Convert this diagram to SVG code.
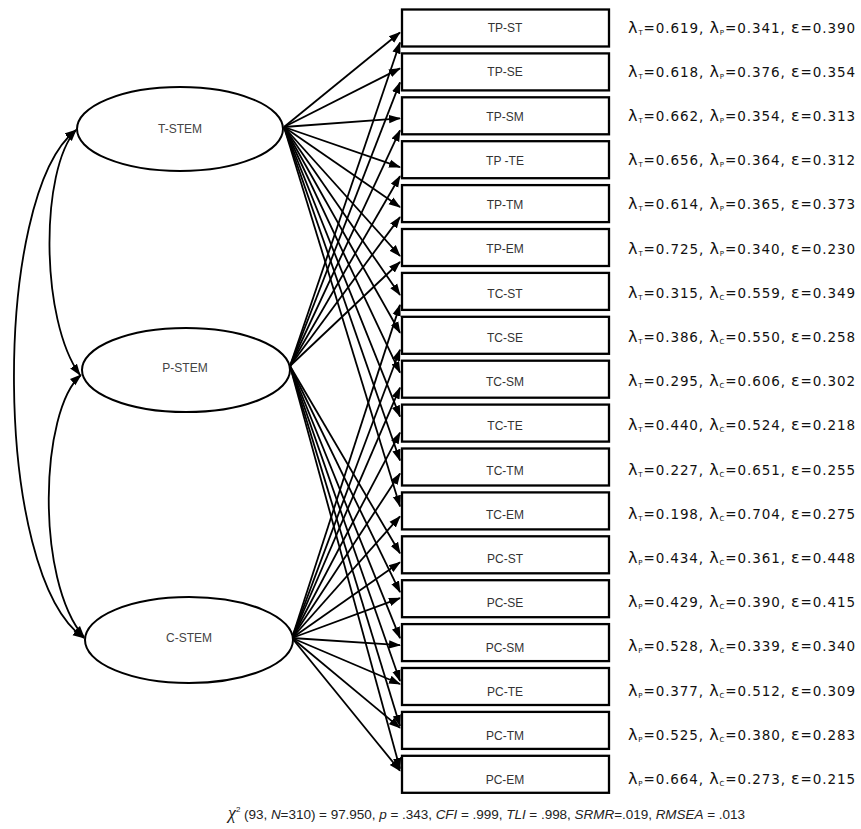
<svg xmlns="http://www.w3.org/2000/svg" width="861" height="829" viewBox="0 0 861 829">
<defs>
<style>
.lat{fill:#fff;stroke:#000;stroke-width:2}
.box{fill:#fff;stroke:#000;stroke-width:2.3}
.ll{font-family:"Liberation Sans",Arial,sans-serif;font-size:12px;fill:#444;text-anchor:middle}
.bl{font-family:"Liberation Sans",Arial,sans-serif;font-size:12px;fill:#333;text-anchor:middle}
.ld{font-family:"DejaVu Sans",Verdana,sans-serif;font-size:13.5px;fill:#111}
.sym{font-size:16px}
.sub{font-size:7px}
.fm{font-family:"Liberation Sans",Arial,sans-serif;font-size:13.5px;fill:#222}
.it{font-style:italic}
#connectors line{stroke:#000;stroke-width:1.8;marker-end:url(#ah)}
#connectors path{fill:none;stroke:#000;stroke-width:1.8;marker-start:url(#ah2);marker-end:url(#ah2)}
</style>
<marker id="ah" markerUnits="userSpaceOnUse" markerWidth="12" markerHeight="10" viewBox="0 0 12 10" refX="11" refY="5" orient="auto"><path d="M0,0.8 L12,5 L0,9.2 z" fill="#000"/></marker>
<marker id="ah2" markerUnits="userSpaceOnUse" markerWidth="12" markerHeight="10" viewBox="0 0 12 10" refX="11" refY="5" orient="auto-start-reverse"><path d="M0,0.8 L12,5 L0,9.2 z" fill="#000"/></marker>
</defs>
<rect width="861" height="829" fill="#fff"/>
<g id="connectors">
<path d="M76,130 C-8,195 -8,575 84,638"/>
<path d="M76,130 C40,170 40,320 80,375"/>
<path d="M81,375 C40,410 35,580 84,637"/>
<line x1="284" y1="127" x2="400" y2="32.5"/>
<line x1="284" y1="127" x2="400" y2="68.4"/>
<line x1="284" y1="127" x2="400" y2="118.3"/>
<line x1="284" y1="127" x2="400" y2="167.2"/>
<line x1="284" y1="127" x2="400" y2="207.1"/>
<line x1="284" y1="127" x2="400" y2="256"/>
<line x1="284" y1="127" x2="400" y2="294.9"/>
<line x1="284" y1="127" x2="400" y2="332.8"/>
<line x1="284" y1="127" x2="400" y2="372.7"/>
<line x1="284" y1="127" x2="400" y2="416.6"/>
<line x1="284" y1="127" x2="400" y2="460.5"/>
<line x1="284" y1="127" x2="400" y2="506.4"/>
<line x1="290" y1="366" x2="400" y2="42.5"/>
<line x1="290" y1="366" x2="400" y2="82.4"/>
<line x1="290" y1="366" x2="400" y2="130.3"/>
<line x1="290" y1="366" x2="400" y2="176.2"/>
<line x1="290" y1="366" x2="400" y2="217.1"/>
<line x1="290" y1="366" x2="400" y2="262"/>
<line x1="290" y1="366" x2="400" y2="553.3"/>
<line x1="290" y1="366" x2="400" y2="592.2"/>
<line x1="290" y1="366" x2="400" y2="638.1"/>
<line x1="290" y1="366" x2="400" y2="681"/>
<line x1="290" y1="366" x2="400" y2="725.9"/>
<line x1="290" y1="366" x2="400" y2="768.8"/>
<line x1="292" y1="638" x2="400" y2="304.9"/>
<line x1="292" y1="638" x2="400" y2="349.8"/>
<line x1="292" y1="638" x2="400" y2="387.7"/>
<line x1="292" y1="638" x2="400" y2="432.6"/>
<line x1="292" y1="638" x2="400" y2="473.5"/>
<line x1="292" y1="638" x2="400" y2="516.4"/>
<line x1="292" y1="638" x2="400" y2="562.3"/>
<line x1="292" y1="638" x2="400" y2="598.2"/>
<line x1="292" y1="638" x2="400" y2="645.1"/>
<line x1="292" y1="638" x2="400" y2="684"/>
<line x1="292" y1="638" x2="400" y2="727.9"/>
<line x1="292" y1="638" x2="400" y2="770.8"/>
</g>
<g id="T-STEM"><ellipse class="lat" cx="180" cy="129" rx="103" ry="42"/><text class="ll" x="180" y="133">T-STEM</text></g>
<g id="P-STEM"><ellipse class="lat" cx="186" cy="370" rx="104" ry="42"/><text class="ll" x="185" y="372">P-STEM</text></g>
<g id="C-STEM"><ellipse class="lat" cx="189" cy="640" rx="104" ry="43"/><text class="ll" x="189" y="642">C-STEM</text></g>
<g id="TP-ST"><rect class="box" x="402" y="9.5" width="207" height="37"/><text class="bl" x="505" y="32">TP-ST</text><text class="ld" x="628" y="32.5" textLength="227" lengthAdjust="spacing"><tspan class="sym">λ</tspan><tspan class="sub" dy="2">T</tspan><tspan dy="-2">=0.619, </tspan><tspan class="sym">λ</tspan><tspan class="sub" dy="2">P</tspan><tspan dy="-2">=0.341, </tspan><tspan class="sym">ε</tspan><tspan>=0.390</tspan></text></g>
<g id="TP-SE"><rect class="box" x="402" y="53.4" width="207" height="37"/><text class="bl" x="505" y="76.3">TP-SE</text><text class="ld" x="628" y="76.7" textLength="227" lengthAdjust="spacing"><tspan class="sym">λ</tspan><tspan class="sub" dy="2">T</tspan><tspan dy="-2">=0.618, </tspan><tspan class="sym">λ</tspan><tspan class="sub" dy="2">P</tspan><tspan dy="-2">=0.376, </tspan><tspan class="sym">ε</tspan><tspan>=0.354</tspan></text></g>
<g id="TP-SM"><rect class="box" x="402" y="97.3" width="207" height="37"/><text class="bl" x="505" y="120.5">TP-SM</text><text class="ld" x="628" y="120.9" textLength="227" lengthAdjust="spacing"><tspan class="sym">λ</tspan><tspan class="sub" dy="2">T</tspan><tspan dy="-2">=0.662, </tspan><tspan class="sym">λ</tspan><tspan class="sub" dy="2">P</tspan><tspan dy="-2">=0.354, </tspan><tspan class="sym">ε</tspan><tspan>=0.313</tspan></text></g>
<g id="TP-TE"><rect class="box" x="402" y="141.2" width="207" height="37"/><text class="bl" x="505" y="164.8">TP -TE</text><text class="ld" x="628" y="165.1" textLength="227" lengthAdjust="spacing"><tspan class="sym">λ</tspan><tspan class="sub" dy="2">T</tspan><tspan dy="-2">=0.656, </tspan><tspan class="sym">λ</tspan><tspan class="sub" dy="2">P</tspan><tspan dy="-2">=0.364, </tspan><tspan class="sym">ε</tspan><tspan>=0.312</tspan></text></g>
<g id="TP-TM"><rect class="box" x="402" y="185.1" width="207" height="37"/><text class="bl" x="505" y="209">TP-TM</text><text class="ld" x="628" y="209.3" textLength="227" lengthAdjust="spacing"><tspan class="sym">λ</tspan><tspan class="sub" dy="2">T</tspan><tspan dy="-2">=0.614, </tspan><tspan class="sym">λ</tspan><tspan class="sub" dy="2">P</tspan><tspan dy="-2">=0.365, </tspan><tspan class="sym">ε</tspan><tspan>=0.373</tspan></text></g>
<g id="TP-EM"><rect class="box" x="402" y="229" width="207" height="37"/><text class="bl" x="505" y="253.3">TP-EM</text><text class="ld" x="628" y="253.5" textLength="227" lengthAdjust="spacing"><tspan class="sym">λ</tspan><tspan class="sub" dy="2">T</tspan><tspan dy="-2">=0.725, </tspan><tspan class="sym">λ</tspan><tspan class="sub" dy="2">P</tspan><tspan dy="-2">=0.340, </tspan><tspan class="sym">ε</tspan><tspan>=0.230</tspan></text></g>
<g id="TC-ST"><rect class="box" x="402" y="272.9" width="207" height="37"/><text class="bl" x="505" y="297.5">TC-ST</text><text class="ld" x="628" y="297.7" textLength="227" lengthAdjust="spacing"><tspan class="sym">λ</tspan><tspan class="sub" dy="2">T</tspan><tspan dy="-2">=0.315, </tspan><tspan class="sym">λ</tspan><tspan class="sub" dy="2">C</tspan><tspan dy="-2">=0.559, </tspan><tspan class="sym">ε</tspan><tspan>=0.349</tspan></text></g>
<g id="TC-SE"><rect class="box" x="402" y="316.8" width="207" height="37"/><text class="bl" x="505" y="341.8">TC-SE</text><text class="ld" x="628" y="341.9" textLength="227" lengthAdjust="spacing"><tspan class="sym">λ</tspan><tspan class="sub" dy="2">T</tspan><tspan dy="-2">=0.386, </tspan><tspan class="sym">λ</tspan><tspan class="sub" dy="2">C</tspan><tspan dy="-2">=0.550, </tspan><tspan class="sym">ε</tspan><tspan>=0.258</tspan></text></g>
<g id="TC-SM"><rect class="box" x="402" y="360.7" width="207" height="37"/><text class="bl" x="505" y="386">TC-SM</text><text class="ld" x="628" y="386.1" textLength="227" lengthAdjust="spacing"><tspan class="sym">λ</tspan><tspan class="sub" dy="2">T</tspan><tspan dy="-2">=0.295, </tspan><tspan class="sym">λ</tspan><tspan class="sub" dy="2">C</tspan><tspan dy="-2">=0.606, </tspan><tspan class="sym">ε</tspan><tspan>=0.302</tspan></text></g>
<g id="TC-TE"><rect class="box" x="402" y="404.6" width="207" height="37"/><text class="bl" x="505" y="430.3">TC-TE</text><text class="ld" x="628" y="430.3" textLength="227" lengthAdjust="spacing"><tspan class="sym">λ</tspan><tspan class="sub" dy="2">T</tspan><tspan dy="-2">=0.440, </tspan><tspan class="sym">λ</tspan><tspan class="sub" dy="2">C</tspan><tspan dy="-2">=0.524, </tspan><tspan class="sym">ε</tspan><tspan>=0.218</tspan></text></g>
<g id="TC-TM"><rect class="box" x="402" y="448.5" width="207" height="37"/><text class="bl" x="505" y="474.5">TC-TM</text><text class="ld" x="628" y="474.5" textLength="227" lengthAdjust="spacing"><tspan class="sym">λ</tspan><tspan class="sub" dy="2">T</tspan><tspan dy="-2">=0.227, </tspan><tspan class="sym">λ</tspan><tspan class="sub" dy="2">C</tspan><tspan dy="-2">=0.651, </tspan><tspan class="sym">ε</tspan><tspan>=0.255</tspan></text></g>
<g id="TC-EM"><rect class="box" x="402" y="492.4" width="207" height="37"/><text class="bl" x="505" y="518.8">TC-EM</text><text class="ld" x="628" y="518.7" textLength="227" lengthAdjust="spacing"><tspan class="sym">λ</tspan><tspan class="sub" dy="2">T</tspan><tspan dy="-2">=0.198, </tspan><tspan class="sym">λ</tspan><tspan class="sub" dy="2">C</tspan><tspan dy="-2">=0.704, </tspan><tspan class="sym">ε</tspan><tspan>=0.275</tspan></text></g>
<g id="PC-ST"><rect class="box" x="402" y="536.3" width="207" height="37"/><text class="bl" x="505" y="563">PC-ST</text><text class="ld" x="628" y="562.9" textLength="227" lengthAdjust="spacing"><tspan class="sym">λ</tspan><tspan class="sub" dy="2">P</tspan><tspan dy="-2">=0.434, </tspan><tspan class="sym">λ</tspan><tspan class="sub" dy="2">C</tspan><tspan dy="-2">=0.361, </tspan><tspan class="sym">ε</tspan><tspan>=0.448</tspan></text></g>
<g id="PC-SE"><rect class="box" x="402" y="580.2" width="207" height="37"/><text class="bl" x="505" y="607.3">PC-SE</text><text class="ld" x="628" y="607.1" textLength="227" lengthAdjust="spacing"><tspan class="sym">λ</tspan><tspan class="sub" dy="2">P</tspan><tspan dy="-2">=0.429, </tspan><tspan class="sym">λ</tspan><tspan class="sub" dy="2">C</tspan><tspan dy="-2">=0.390, </tspan><tspan class="sym">ε</tspan><tspan>=0.415</tspan></text></g>
<g id="PC-SM"><rect class="box" x="402" y="624.1" width="207" height="37"/><text class="bl" x="505" y="651.5">PC-SM</text><text class="ld" x="628" y="651.3" textLength="227" lengthAdjust="spacing"><tspan class="sym">λ</tspan><tspan class="sub" dy="2">P</tspan><tspan dy="-2">=0.528, </tspan><tspan class="sym">λ</tspan><tspan class="sub" dy="2">C</tspan><tspan dy="-2">=0.339, </tspan><tspan class="sym">ε</tspan><tspan>=0.340</tspan></text></g>
<g id="PC-TE"><rect class="box" x="402" y="668" width="207" height="37"/><text class="bl" x="505" y="695.8">PC-TE</text><text class="ld" x="628" y="695.5" textLength="227" lengthAdjust="spacing"><tspan class="sym">λ</tspan><tspan class="sub" dy="2">P</tspan><tspan dy="-2">=0.377, </tspan><tspan class="sym">λ</tspan><tspan class="sub" dy="2">C</tspan><tspan dy="-2">=0.512, </tspan><tspan class="sym">ε</tspan><tspan>=0.309</tspan></text></g>
<g id="PC-TM"><rect class="box" x="402" y="711.9" width="207" height="37"/><text class="bl" x="505" y="740">PC-TM</text><text class="ld" x="628" y="739.7" textLength="227" lengthAdjust="spacing"><tspan class="sym">λ</tspan><tspan class="sub" dy="2">P</tspan><tspan dy="-2">=0.525, </tspan><tspan class="sym">λ</tspan><tspan class="sub" dy="2">C</tspan><tspan dy="-2">=0.380, </tspan><tspan class="sym">ε</tspan><tspan>=0.283</tspan></text></g>
<g id="PC-EM"><rect class="box" x="402" y="755.8" width="207" height="37"/><text class="bl" x="505" y="784.3">PC-EM</text><text class="ld" x="628" y="783.9" textLength="227" lengthAdjust="spacing"><tspan class="sym">λ</tspan><tspan class="sub" dy="2">P</tspan><tspan dy="-2">=0.664, </tspan><tspan class="sym">λ</tspan><tspan class="sub" dy="2">C</tspan><tspan dy="-2">=0.273, </tspan><tspan class="sym">ε</tspan><tspan>=0.215</tspan></text></g>
<g id="fit"><text class="fm" x="228" y="819" textLength="517" lengthAdjust="spacing"><tspan class="it" font-size="18" font-family="Liberation Serif, serif">χ</tspan><tspan font-size="8" dy="-7">2</tspan><tspan dy="7"> (93, </tspan><tspan class="it">N</tspan><tspan>=310) = 97.950, </tspan><tspan class="it">p</tspan><tspan> = .343, </tspan><tspan class="it">CFI</tspan><tspan> = .999, </tspan><tspan class="it">TLI</tspan><tspan> = .998, </tspan><tspan class="it">SRMR</tspan><tspan>=.019, </tspan><tspan class="it">RMSEA</tspan><tspan> = .013</tspan></text></g>
</svg>
